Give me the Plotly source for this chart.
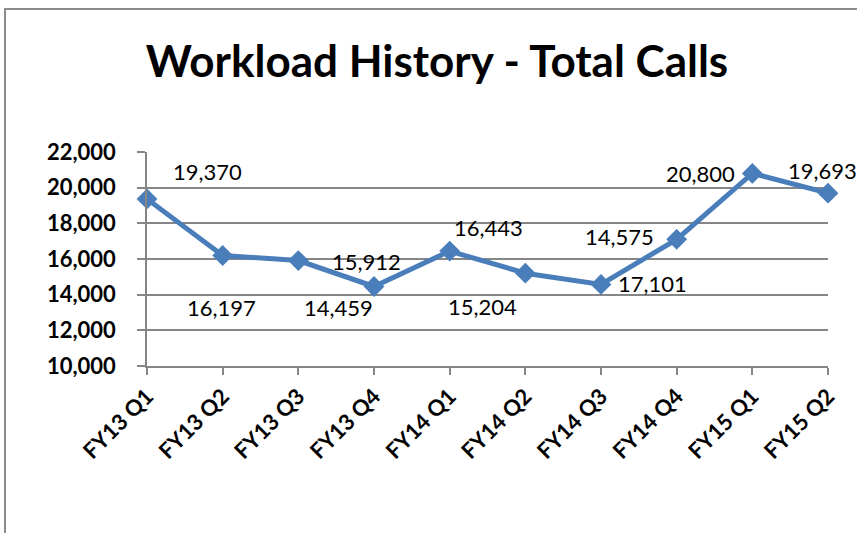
import plotly.graph_objects as go

categories = ["FY13 Q1", "FY13 Q2", "FY13 Q3", "FY13 Q4", "FY14 Q1",
              "FY14 Q2", "FY14 Q3", "FY14 Q4", "FY15 Q1", "FY15 Q2"]
total_calls = [19370, 16197, 15912, 14459, 16443, 15204, 14575, 17101, 20800, 19693]
# label offsets (pixels) relative to each point, as laid out in the original chart
label_dx = [60, -1, 68, -36, 39, -43, 18, -24, -52, -6]
label_dy = [27, -52, -1, -21, 24, -33, 48, -44, 0, 23]

y_tick_vals = [10000, 12000, 14000, 16000, 18000, 20000, 22000]

W, H = 857, 533
L, R, T, B = 147, 29, 152, 167
pw, ph = W - L - R, H - T - B

fig = go.Figure()
fig.add_trace(go.Scatter(
    x=categories, y=total_calls, mode="lines+markers",
    line=dict(color="#4A7EBB", width=5),
    marker=dict(symbol="diamond", size=16, color="#4A7EBB"),
    cliponaxis=False, showlegend=False, hoverinfo="x+y",
))

for c, v, dx, dy in zip(categories, total_calls, label_dx, label_dy):
    fig.add_annotation(x=c, y=v, text=f"{v:,}", showarrow=False,
                       xshift=dx, yshift=dy,
                       font=dict(family="Lato", size=22, color="#000000"))

# outer chart border
fig.add_shape(type="rect", xref="paper", yref="paper",
              x0=(5 - L) / pw, x1=(W + 20 - L) / pw,
              y0=-(H + 20 - (H - B)) / ph, y1=((H - B) - 9) / ph,
              line=dict(color="#8C8C8C", width=2), layer="below")

fig.update_layout(
    width=W, height=H,
    margin=dict(l=L, r=R, t=T, b=B),
    paper_bgcolor="white", plot_bgcolor="white",
    title=dict(text="<b>Workload History - Total Calls</b>", x=(437) / W, xanchor="center",
               y=1 - 62 / H, yanchor="middle",
               font=dict(family="Lato", size=44, color="#000000")),
    xaxis=dict(type="category", range=[0, len(categories) - 1],
               showgrid=False, showline=True, linecolor="#868686", linewidth=1.5,
               ticks="outside", ticklen=7, tickcolor="#868686", tickwidth=1.5,
               tickangle=-45,
               tickfont=dict(family="Lato", size=22, color="#000000", weight="bold")),
    yaxis=dict(range=[10000, 22000], tickvals=y_tick_vals, tickformat=",",
               showgrid=True, gridcolor="#868686", gridwidth=1.5,
               showline=True, linecolor="#868686", linewidth=1.5,
               ticks="outside", ticklen=8, tickcolor="#868686", tickwidth=1.5,
               zeroline=False, ticklabelstandoff=17,
               tickfont=dict(family="Lato", size=22, color="#000000", weight="bold")),
)

fig.write_html("out.html", config={"displayModeBar": False},
               post_script="document.body.style.margin='0';document.body.style.padding='0';")
